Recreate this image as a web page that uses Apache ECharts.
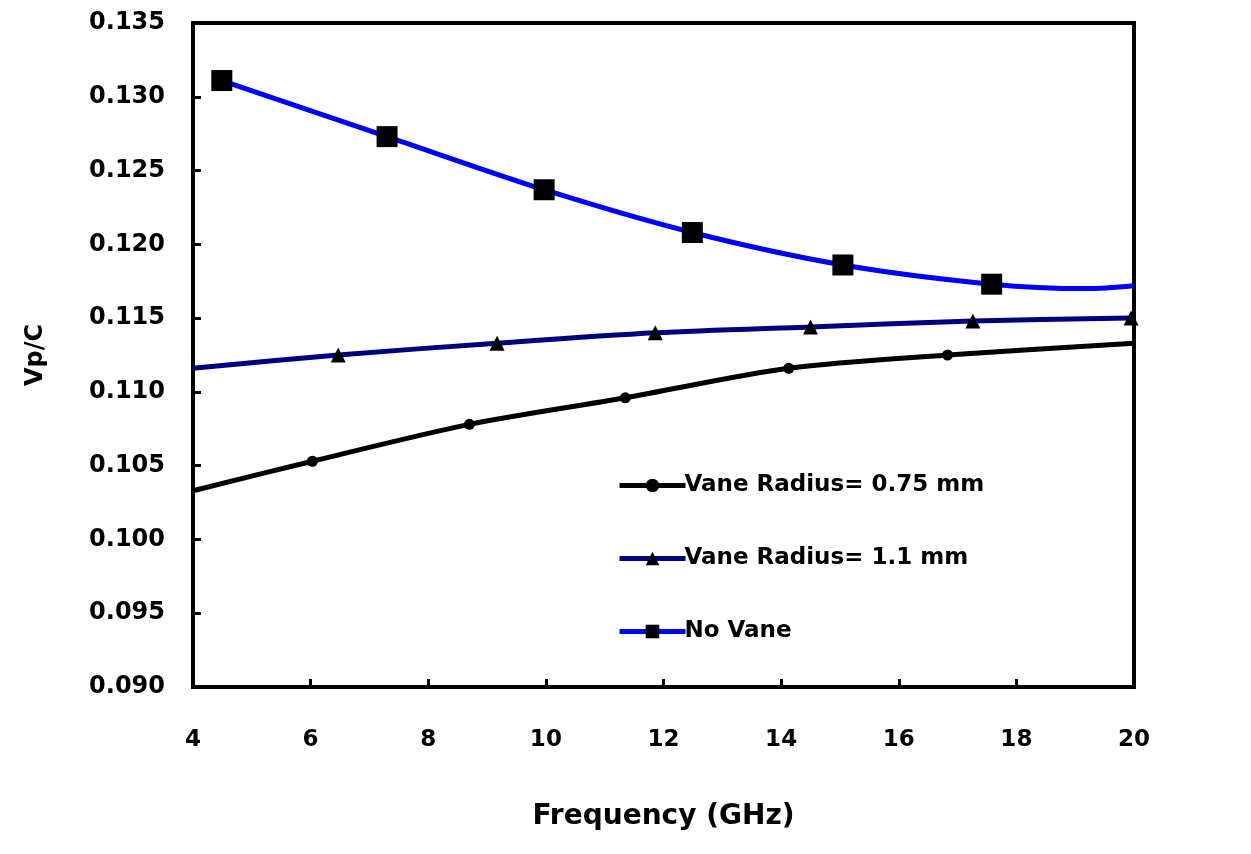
<!DOCTYPE html>
<html>
<head>
<meta charset="utf-8">
<script src="https://cdn.jsdelivr.net/npm/echarts@6/dist/echarts.min.js"></script>
<style>
  html, body { margin: 0; padding: 0; background: #fff; }
  #chart { width: 1251px; height: 854px; }
</style>
</head>
<body>
<div id="chart"></div>
<script>
// values: [frequency GHz, Vp/C]
// points flagged false are line ends drawn without a marker
const vane075 = [[4.0, 0.1033, false], [6.03, 0.1053], [8.70, 0.1078], [11.35, 0.1096], [14.13, 0.1116], [16.83, 0.1125], [20.0, 0.1133, false]]
const vane11 = [[4.0, 0.1116, false], [6.47, 0.1125], [9.17, 0.1133], [11.86, 0.1140], [14.50, 0.1144], [17.26, 0.1148], [19.95, 0.1150]]
const noVane = [[4.49, 0.1311], [7.30, 0.1273], [9.97, 0.1237], [12.49, 0.1208], [15.05, 0.1186], [17.58, 0.1173], [19.2, 0.1170, false], [20.0, 0.1172, false]]

const seriesNames = ['Vane Radius= 0.75 mm', 'Vane Radius= 1.1 mm', 'No Vane']
const xTicks = [4, 6, 8, 10, 12, 14, 16, 18, 20]

const font = 'DejaVu Sans, Arial, sans-serif'

// points without a marker get symbol 'none'
function toData(arr) {
  return arr.map(p => p[2] === false ? { value: [p[0], p[1]], symbol: 'none' } : [p[0], p[1]])
}

function lineSeries(name, arr, color, symbol, size) {
  return {
    name: name,
    type: 'line',
    data: toData(arr),
    smooth: 0.3,
    symbol: symbol,
    symbolSize: size,
    showAllSymbol: true,
    lineStyle: { color: color, width: 5 },
    itemStyle: { color: '#000', borderWidth: 0 },
    emphasis: { disabled: true },
    z: 3
  }
}

const chart = echarts.init(document.getElementById('chart'))
chart.setOption({
  animation: false,
  backgroundColor: '#fff',
  grid: {
    left: 193, right: 117, top: 23, bottom: 167,
    show: true, borderColor: '#000', borderWidth: 4
  },
  legend: {
    orient: 'vertical',
    left: 612, top: 469,
    itemWidth: 66, itemHeight: 17,
    itemGap: 50,
    lineStyle: { width: 5 },
    textStyle: { fontFamily: font, fontWeight: 'bold', fontSize: 23, color: '#000', padding: [0, 0, 0, -6] },
    data: seriesNames
  },
  xAxis: {
    type: 'value',
    min: 4, max: 20, interval: 2,
    name: 'Frequency (GHz)',
    nameLocation: 'middle',
    nameGap: 116,
    nameTextStyle: { fontFamily: font, fontWeight: 'bold', fontSize: 28, color: '#000' },
    axisLine: { lineStyle: { color: '#000', width: 4 } },
    axisTick: { inside: true, length: 8, lineStyle: { color: '#000', width: 3 } },
    axisLabel: {
      margin: 42,
      fontFamily: font, fontWeight: 'bold', fontSize: 23, color: '#000',
      formatter: v => xTicks.includes(v) ? String(v) : ''
    },
    splitLine: { show: false }
  },
  yAxis: {
    type: 'value',
    min: 0.090, max: 0.135, interval: 0.005,
    name: 'Vp/C',
    nameLocation: 'middle',
    nameGap: 145,
    nameRotate: 90,
    nameTextStyle: { fontFamily: font, fontWeight: 'bold', fontSize: 24, color: '#000' },
    axisLine: { lineStyle: { color: '#000', width: 4 } },
    axisTick: { inside: true, length: 8, lineStyle: { color: '#000', width: 3 } },
    axisLabel: {
      margin: 28,
      fontFamily: font, fontWeight: 'bold', fontSize: 24, color: '#000',
      formatter: v => v.toFixed(3)
    },
    splitLine: { show: false }
  },
  series: [
    lineSeries(seriesNames[0], vane075, '#000000', 'circle', 11),
    lineSeries(seriesNames[1], vane11, '#000080', 'triangle', 15),
    lineSeries(seriesNames[2], noVane, '#0000ff', 'rect', 21)
  ]
})
</script>
</body>
</html>
